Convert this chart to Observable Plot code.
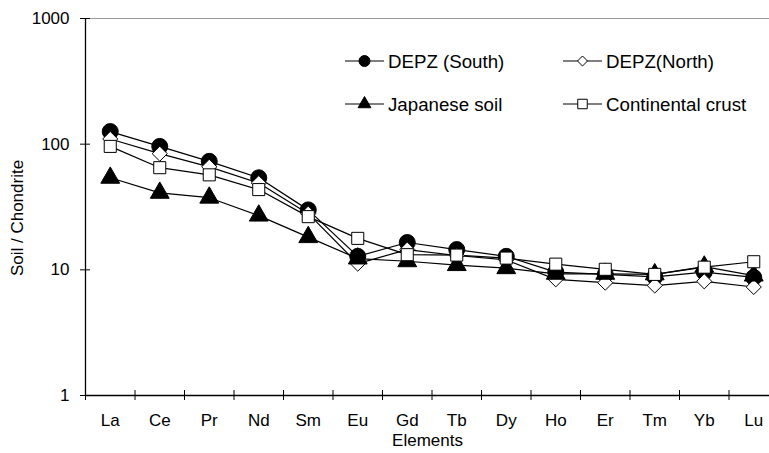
<!DOCTYPE html>
<html><head><meta charset="utf-8">
<script src="https://cdn.jsdelivr.net/npm/d3@7"></script>
<script src="https://cdn.jsdelivr.net/npm/@observablehq/plot@0.6"></script>
<style>
html,body{margin:0;padding:0;background:#fff;overflow:hidden}
#chart{position:relative;width:769px;height:453px;overflow:hidden}
</style></head><body><div id="chart"></div>
<script>
const elements = ["La","Ce","Pr","Nd","Sm","Eu","Gd","Tb","Dy","Ho","Er","Tm","Yb","Lu"];
const southValues = [126, 96, 73, 54, 30, 12.8, 16.5, 14.5, 12.8, 9.6, 9.2, 8.8, 9.6, 8.7];
const northValues = [110, 84, 66, 49, 28, 11.2, 14.5, 13, 12, 8.4, 7.9, 7.5, 8.1, 7.3];
const japanValues = [54, 41, 37.5, 27, 18.2, 12.3, 11.7, 10.9, 10.3, 9.3, 9.3, 9.2, 10.6, 9.0];
const crustValues = [96, 65, 57, 43.5, 26.5, 17.8, 13.2, 13.1, 12.4, 11.1, 10.1, 9.2, 10.5, 11.6];
const seriesNames = ["DEPZ (South)", "DEPZ(North)", "Japanese soil", "Continental crust"];
const yTicks = [1, 10, 100, 1000];
const yLabel = "Soil / Chondrite";
const xLabel = "Elements";

const seriesValues = [southValues, northValues, japanValues, crustValues];
const symbols = ["circle", "diamond2", "triangle", "square"];
const fills = ["black", "white", "black", "white"];
const radii = [8, 6.8, 7, 6.8];

const rows = [];
seriesValues.forEach((vals, s) => vals.forEach((v, i) => rows.push({series: seriesNames[s], s, i, v})));

const xDomain = [-0.5, elements.length - 0.5];
const boundaries = d3.range(elements.length + 1).map(i => i - 0.5);
const yDomain = [yTicks[0], yTicks[yTicks.length - 1]];
const font = "'Liberation Sans', Arial, sans-serif";

const svg = Plot.plot({
  width: 769, height: 453,
  marginTop: 18, marginBottom: 58, marginLeft: 85, marginRight: 0,
  style: {fontFamily: font, fontSize: "17px", background: "#fff", color: "black"},
  x: {type: "linear", domain: xDomain, range: [85, 778]},
  y: {type: "log", domain: yDomain, range: [395, 18]},
  marks: [
    Plot.ruleY([yDomain[1]], {stroke: "#9a9a9a", strokeWidth: 1}),
    Plot.axisY({ticks: yTicks, tickFormat: d => String(d), tickSize: 10, dx: 5, tickPadding: 11, label: null, stroke: "black"}),
    Plot.axisX({ticks: boundaries, tickFormat: () => "", tickSize: 10, dy: -5, label: null, stroke: "black"}),
    Plot.axisX({ticks: d3.range(elements.length), tickFormat: i => elements[i], tickSize: 0, tickPadding: 18, label: null}),
    Plot.ruleY([yDomain[0]], {stroke: "black", strokeWidth: 1.3}),
    Plot.ruleX([xDomain[0]], {y1: yDomain[0], y2: yDomain[1], stroke: "black", strokeWidth: 1.3}),
    Plot.line(rows, {x: "i", y: "v", z: "series", stroke: "black", strokeWidth: 1.2}),
    ...seriesNames.map((name, s) => Plot.dot(rows.filter(d => d.s === s), {
      x: "i", y: "v", symbol: () => symbols[s], fill: fills[s], stroke: "black", strokeWidth: 1, r: radii[s]
    })),
    Plot.text([xLabel], {text: d => d, frameAnchor: "bottom", dy: 50, fontSize: 17})
  ]
});

const root = d3.select(svg);
// y-axis title
root.append("text")
  .attr("transform", "translate(17,218) rotate(-90)")
  .attr("text-anchor", "middle").attr("dy", "0.35em")
  .attr("font-family", font).attr("font-size", 17)
  .text(yLabel);

// legend inside the plot area
const legendSymbols = [d3.symbolCircle, d3.symbolDiamond2, d3.symbolTriangle, d3.symbolSquare];
const legendSizes = [95, 64, 72, 90];
const cols = [345, 563], rowsY = [61, 104];
const lg = root.append("g").attr("font-family", font).attr("font-size", 18.7).attr("text-anchor", "start");
seriesNames.forEach((name, k) => {
  const x = cols[k % 2], y = rowsY[Math.floor(k / 2)];
  lg.append("line").attr("x1", x).attr("x2", x + 39).attr("y1", y).attr("y2", y).attr("stroke", "black").attr("stroke-width", 1.2);
  lg.append("path").attr("d", d3.symbol(legendSymbols[k], legendSizes[k])())
    .attr("transform", `translate(${x + 19.5},${y})`).attr("fill", fills[k]).attr("stroke", "black");
  lg.append("text").attr("x", x + 43).attr("y", y).attr("dy", "0.35em").attr("text-anchor", "start").text(name);
});

document.getElementById("chart").appendChild(svg);
</script></body></html>
